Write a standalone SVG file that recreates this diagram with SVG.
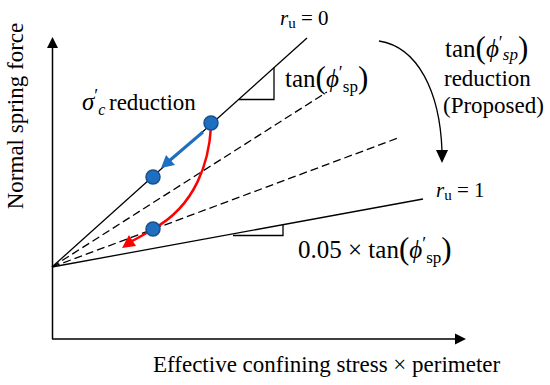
<svg xmlns="http://www.w3.org/2000/svg" width="550" height="385" viewBox="0 0 550 385">
<defs>
<style>
.t{font-family:"Liberation Serif","Times New Roman",serif;fill:#000}
.i{font-style:italic}
.ln{stroke:#000;stroke-width:1.3;fill:none}
.ds{stroke:#000;stroke-width:1.3;fill:none;stroke-dasharray:8 4}
.ax{stroke:#000;stroke-width:1.5;fill:none}
.dot{fill:#1f6fc0;stroke:#174f8c;stroke-width:1.5}
</style>
</defs>
<rect width="550" height="385" fill="#fff"/>
<g id="axes">
<line class="ax" x1="52.5" y1="46" x2="52.5" y2="339"/>
<polygon points="52.5,37 47,48 58,48" fill="#000"/>
<line class="ax" x1="52" y1="339" x2="456" y2="339"/>
<polygon points="466,339 455,333.5 455,344.5" fill="#000"/>
</g>
<g id="lines">
<line id="ru0" class="ln" x1="52" y1="267" x2="307" y2="38"/>
<polyline class="ln" points="239,99.5 274,99.5 274,67.5"/>
<line class="ds" x1="52" y1="267" x2="327" y2="92"/>
<line class="ds" x1="52" y1="267" x2="398" y2="138"/>
<line id="ru1" class="ln" x1="52" y1="267" x2="423" y2="199"/>
<polyline class="ln" points="233,235.5 283,235.5 283,225"/>
</g>
<g id="connectors">
<line x1="203" y1="132" x2="169" y2="161" stroke="#1f6fc0" stroke-width="3"/>
<polygon points="161,168 166,155 175,165" fill="#1f6fc0"/>
<path d="M211,127 C209,160 197,205 153,229 C145,234 138,238 132,241" stroke="#ff0000" stroke-width="2.5" fill="none"/>
<polygon points="122,248 129,235 136,246" fill="#ff0000"/>
<path d="M379,41 C418,47 440,92 442,151" class="ln"/>
<polygon points="442,163 436,150 448,150" fill="#000"/>
</g>
<g id="points">
<circle id="p1" class="dot" cx="211" cy="123" r="7"/>
<circle id="p2" class="dot" cx="153" cy="177" r="7"/>
<circle id="p3" class="dot" cx="153" cy="229" r="7"/>
</g>
<g id="labels">
<text class="t" font-size="23" transform="translate(23,116) rotate(-90)" text-anchor="middle">Normal spring force</text>
<text class="t" font-size="23" x="153" y="372">Effective confining stress × perimeter</text>
<text class="t" font-size="21" x="280" y="25"><tspan class="i">r</tspan><tspan font-size="15" dy="3">u</tspan><tspan dy="-3"> = 0</tspan></text>
<text class="t" font-size="21" x="436" y="197"><tspan class="i">r</tspan><tspan font-size="15" dy="3">u</tspan><tspan dy="-3"> = 1</tspan></text>
<text class="t" font-size="25" x="82" y="110"><tspan class="i">σ</tspan><tspan font-size="18" dy="-8">′</tspan><tspan class="i" font-size="16" dy="13">c</tspan><tspan font-size="23" x="109" dy="-5">reduction</tspan></text>
<text class="t" font-size="25" x="285" y="87">tan<tspan font-size="31" dy="1">(</tspan><tspan class="i" dy="-1">ϕ</tspan><tspan font-size="18" dy="-8">′</tspan><tspan font-size="17" dy="13">sp</tspan><tspan font-size="31" dy="-4">)</tspan></text>
<text class="t" font-size="25" x="445" y="57">tan<tspan font-size="31" dy="1">(</tspan><tspan class="i" dy="-1">ϕ</tspan><tspan font-size="18" dy="-8">′</tspan><tspan class="i" font-size="17" dy="11">sp</tspan><tspan font-size="31" dy="-2">)</tspan></text>
<text class="t" font-size="23" x="444" y="86">reduction</text>
<text class="t" font-size="23" x="443" y="113">(Proposed)</text>
<text class="t" font-size="25" x="298" y="258">0.05 × tan<tspan font-size="31" dy="1">(</tspan><tspan class="i" dy="-1">ϕ</tspan><tspan font-size="18" dy="-8">′</tspan><tspan font-size="17" dy="13">sp</tspan><tspan font-size="31" dy="-4">)</tspan></text>
</g>
</svg>
